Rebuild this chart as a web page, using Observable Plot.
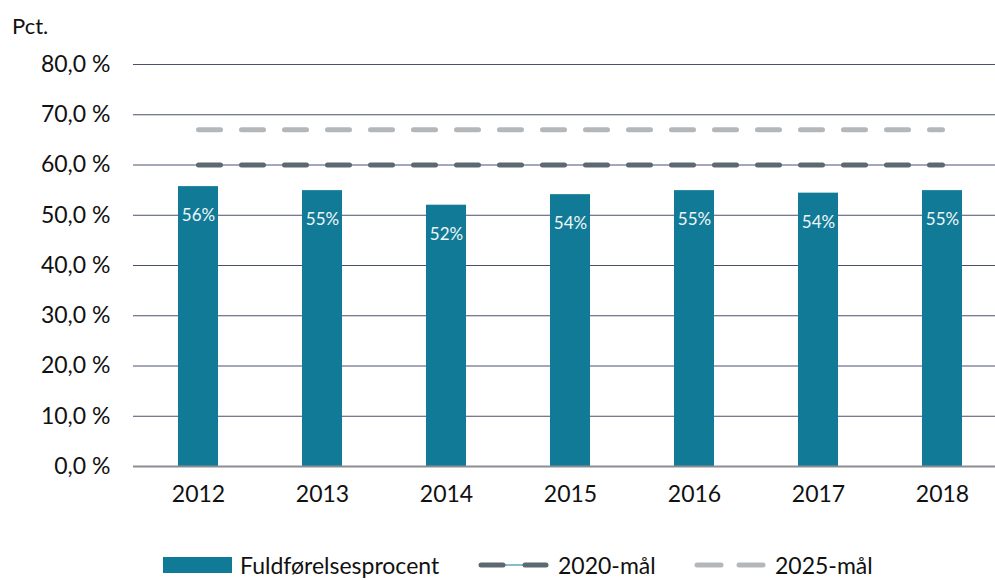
<!DOCTYPE html>
<html>
<head>
<meta charset="utf-8">
<script src="https://cdn.jsdelivr.net/npm/d3@7"></script>
<script src="https://cdn.jsdelivr.net/npm/@observablehq/plot@0.6"></script>
<style>
  body { margin: 0; background: #fff; font-family: Lato, "Open Sans", sans-serif; overflow: hidden; }
  #wrap { position: relative; width: 995px; height: 580px; }
  #unit { position: absolute; left: 12px; top: 12px; font-size: 22px; line-height: 28px; color: #111; }
  #chart { position: absolute; left: 0; top: 0; }
  #legend { position: absolute; left: 0; top: 553px; width: 995px; height: 24px; font-size: 23px; color: #111; }
  #legend .item { position: absolute; top: 0; display: flex; align-items: center; height: 24px; line-height: 24px; }
</style>
</head>
<body>
<div id="wrap">
  <div id="chart"></div>
  <div id="unit">Pct.</div>
  <div id="legend"></div>
</div>
<script>
// ---- data ----
const years = ["2012", "2013", "2014", "2015", "2016", "2017", "2018"];
const completion = [55.7, 54.9, 52.0, 54.1, 54.9, 54.4, 54.9];
const goal2020 = [60, 60, 60, 60, 60, 60, 60];
const goal2025 = [67, 67, 67, 67, 67, 67, 67];
const yTicks = [0, 10, 20, 30, 40, 50, 60, 70, 80];
const seriesNames = ["Fuldførelsesprocent", "2020-mål", "2025-mål"];

const teal = "#117b97";
const dark = "#5d6870";
const light = "#b4b7ba";

const rows = years.map((y, i) => ({year: y, value: completion[i], g20: goal2020[i], g25: goal2025[i]}));

const chart = Plot.plot({
  width: 995,
  height: 510,
  marginTop: 64,
  marginBottom: 44,
  marginLeft: 133,
  marginRight: 0,
  style: {fontFamily: "Lato, sans-serif", fontSize: "23px", color: "#111", background: "transparent"},
  x: {type: "band", domain: years, range: [134, 1006], paddingInner: 0.68, paddingOuter: 0.34},
  y: {domain: [0, 80]},
  marks: [
    Plot.ruleY(yTicks.filter(d => d > 0), {stroke: "#4a5070", strokeWidth: 1}),
    Plot.barY(rows, {x: "year", y: "value", fill: teal}),
    Plot.ruleY([0], {stroke: "#8a8d93", strokeWidth: 2}),
    Plot.lineY(rows, {x: "year", y: "g25", stroke: light, strokeWidth: 5, strokeDasharray: "22,21", strokeLinecap: "round"}),
    Plot.lineY(rows, {x: "year", y: "g20", stroke: dark, strokeWidth: 5, strokeDasharray: "22,21", strokeLinecap: "round"}),
    Plot.text(rows, {x: "year", y: "value", text: d => Math.round(d.value) + "%", dy: 29, fill: "#f2f6f8", fontSize: 17}),
    Plot.axisY(yTicks, {tickSize: 0, tickPadding: 23, fontSize: 23, tickFormat: d => d.toFixed(1).replace(".", ",") + " %", label: null}),
    Plot.axisX({tickSize: 0, tickPadding: 19, fontSize: 23, label: null})
  ]
});
document.getElementById("chart").appendChild(chart);

// ---- legend ----
const legend = document.getElementById("legend");
function item(left, svg, text) {
  const d = document.createElement("div");
  d.className = "item";
  d.style.left = left + "px";
  d.innerHTML = svg + `<span style="margin-left:8px">${text}</span>`;
  legend.appendChild(d);
}
item(163, `<svg width="69" height="16"><rect x="0" y="0" width="69" height="16" fill="${teal}"/></svg>`, seriesNames[0]);
item(478, `<svg width="72" height="16"><line x1="3" y1="8" x2="68" y2="8" stroke="${teal}" stroke-width="1.2"/><line x1="3" y1="8" x2="25" y2="8" stroke="${dark}" stroke-width="5" stroke-linecap="round"/><line x1="47" y1="8" x2="68" y2="8" stroke="${dark}" stroke-width="5" stroke-linecap="round"/></svg>`, seriesNames[1]);
item(694, `<svg width="73" height="16"><line x1="3" y1="8" x2="27" y2="8" stroke="${light}" stroke-width="5" stroke-linecap="round"/><line x1="45" y1="8" x2="69" y2="8" stroke="${light}" stroke-width="5" stroke-linecap="round"/></svg>`, seriesNames[2]);
</script>
</body>
</html>
